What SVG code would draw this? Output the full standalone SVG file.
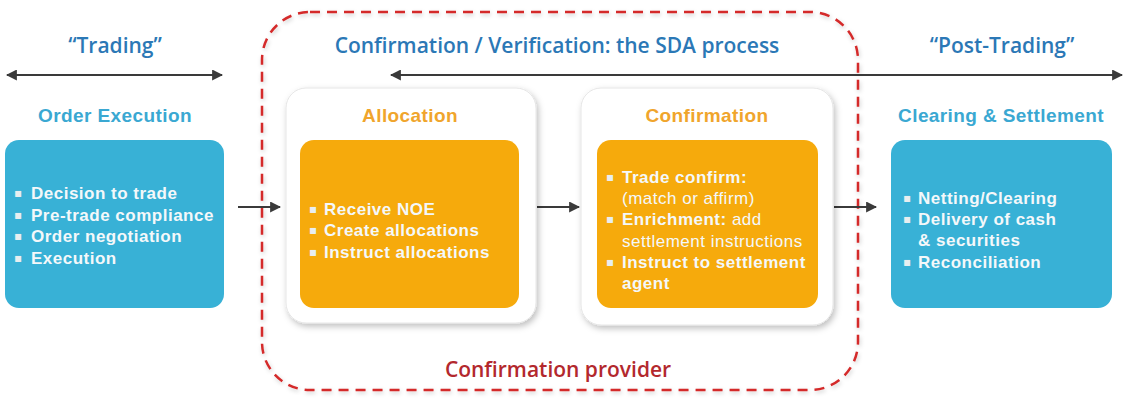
<svg xmlns="http://www.w3.org/2000/svg" width="1126" height="401" viewBox="0 0 1126 401">
<style>
.hdr{font-family:"Open Sans","Liberation Sans",sans-serif;font-weight:600;font-size:21px;fill:#2b78b6;text-anchor:middle}
.ttl{font-family:"Liberation Sans",Arial,sans-serif;font-weight:bold;font-size:19px;letter-spacing:0.4px;text-anchor:middle}
.blueT{fill:#3aa8d2}
.orT{fill:#f0a52c}
.item{font-family:"Liberation Sans",Arial,sans-serif;font-weight:bold;font-size:17px;letter-spacing:0.5px;fill:#f4f8fa}
.bl{font-family:"DejaVu Sans",sans-serif;font-size:12px;fill:#e8eef0}
.n{font-weight:normal}
.blue{fill:#38b1d6}
.orange{fill:#f6aa0c}
.card{fill:#ffffff;stroke:#e6e6e6;stroke-width:1}
.ln{stroke:#3a3a3a;stroke-width:2.2;fill:none}
</style>
<defs>
<marker id="ah" viewBox="0 0 10 10" refX="9" refY="5" markerWidth="5" markerHeight="5" orient="auto-start-reverse">
<path d="M0,0 L10,5 L0,10 z" fill="#3a3a3a"/>
</marker>
<filter id="sh" x="-10%" y="-10%" width="130%" height="130%">
<feDropShadow dx="2" dy="3" stdDeviation="3" flood-color="#000" flood-opacity="0.25"/>
</filter>
<filter id="sh2" x="-5%" y="-5%" width="110%" height="110%">
<feDropShadow dx="1" dy="2" stdDeviation="2" flood-color="#000" flood-opacity="0.2"/>
</filter>
</defs>
<rect width="1126" height="401" fill="#ffffff"/>

<g id="provider">
<rect x="262" y="12" width="596" height="378" rx="48" fill="none" stroke="#d42a2a" stroke-width="2.5" stroke-dasharray="10,7" filter="url(#sh2)"/>
<text class="hdr" x="558" y="377" style="fill:#b3282d">Confirmation provider</text>
</g>

<g id="headers">
<text class="hdr" x="115" y="53">“Trading”</text>
<text class="hdr" x="557" y="53">Confirmation / Verification: the SDA process</text>
<text class="hdr" x="1002" y="53">“Post-Trading”</text>
</g>

<g id="connectors">
<line class="ln" x1="7" y1="75" x2="222" y2="75" marker-start="url(#ah)" marker-end="url(#ah)"/>
<line class="ln" x1="391" y1="75" x2="1122" y2="75" marker-start="url(#ah)" marker-end="url(#ah)"/>
<line class="ln" x1="238" y1="207" x2="280" y2="207" marker-end="url(#ah)"/>
<line class="ln" x1="537" y1="207" x2="579" y2="207" marker-end="url(#ah)"/>
<line class="ln" x1="834" y1="207" x2="876" y2="207" marker-end="url(#ah)"/>
</g>

<g id="order-execution">
<text class="ttl blueT" x="115" y="122">Order Execution</text>
<rect class="blue" x="5" y="140" width="219" height="168" rx="14"/>
<text class="bl" x="14" y="197">▪</text><text class="item" x="31" y="199">Decision to trade</text>
<text class="bl" x="14" y="219">▪</text><text class="item" x="31" y="221">Pre-trade compliance</text>
<text class="bl" x="14" y="240">▪</text><text class="item" x="31" y="242">Order negotiation</text>
<text class="bl" x="14" y="262">▪</text><text class="item" x="31" y="264">Execution</text>
</g>

<g id="allocation">
<rect class="card" x="286" y="88" width="250" height="235" rx="20" filter="url(#sh)"/>
<text class="ttl orT" x="410" y="122">Allocation</text>
<rect class="orange" x="300" y="140" width="219" height="168" rx="14"/>
<text class="bl" x="309" y="213">▪</text><text class="item" x="324" y="215">Receive NOE</text>
<text class="bl" x="309" y="234">▪</text><text class="item" x="324" y="236">Create allocations</text>
<text class="bl" x="309" y="256">▪</text><text class="item" x="324" y="258">Instruct allocations</text>
</g>

<g id="confirmation">
<rect class="card" x="581" y="88" width="252" height="237" rx="20" filter="url(#sh)"/>
<text class="ttl orT" x="707" y="122">Confirmation</text>
<rect class="orange" x="597" y="140" width="221" height="168" rx="14"/>
<text class="bl" x="606" y="181">▪</text><text class="item" x="622" y="183">Trade confirm:</text>
<text class="item n" x="622" y="204">(match or affirm)</text>
<text class="bl" x="606" y="223">▪</text><text class="item" x="622" y="225">Enrichment:<tspan class="n"> add</tspan></text>
<text class="item n" x="622" y="247">settlement instructions</text>
<text class="bl" x="606" y="266">▪</text><text class="item" x="622" y="268">Instruct to settlement</text>
<text class="item" x="622" y="289">agent</text>
</g>

<g id="clearing-settlement">
<text class="ttl blueT" x="1001" y="122">Clearing &amp; Settlement</text>
<rect class="blue" x="891" y="140" width="221" height="168" rx="14"/>
<text class="bl" x="903" y="202">▪</text><text class="item" x="918" y="204">Netting/Clearing</text>
<text class="bl" x="903" y="223">▪</text><text class="item" x="918" y="225">Delivery of cash</text>
<text class="item" x="918" y="246">&amp; securities</text>
<text class="bl" x="903" y="266">▪</text><text class="item" x="918" y="268">Reconciliation</text>
</g>
</svg>
